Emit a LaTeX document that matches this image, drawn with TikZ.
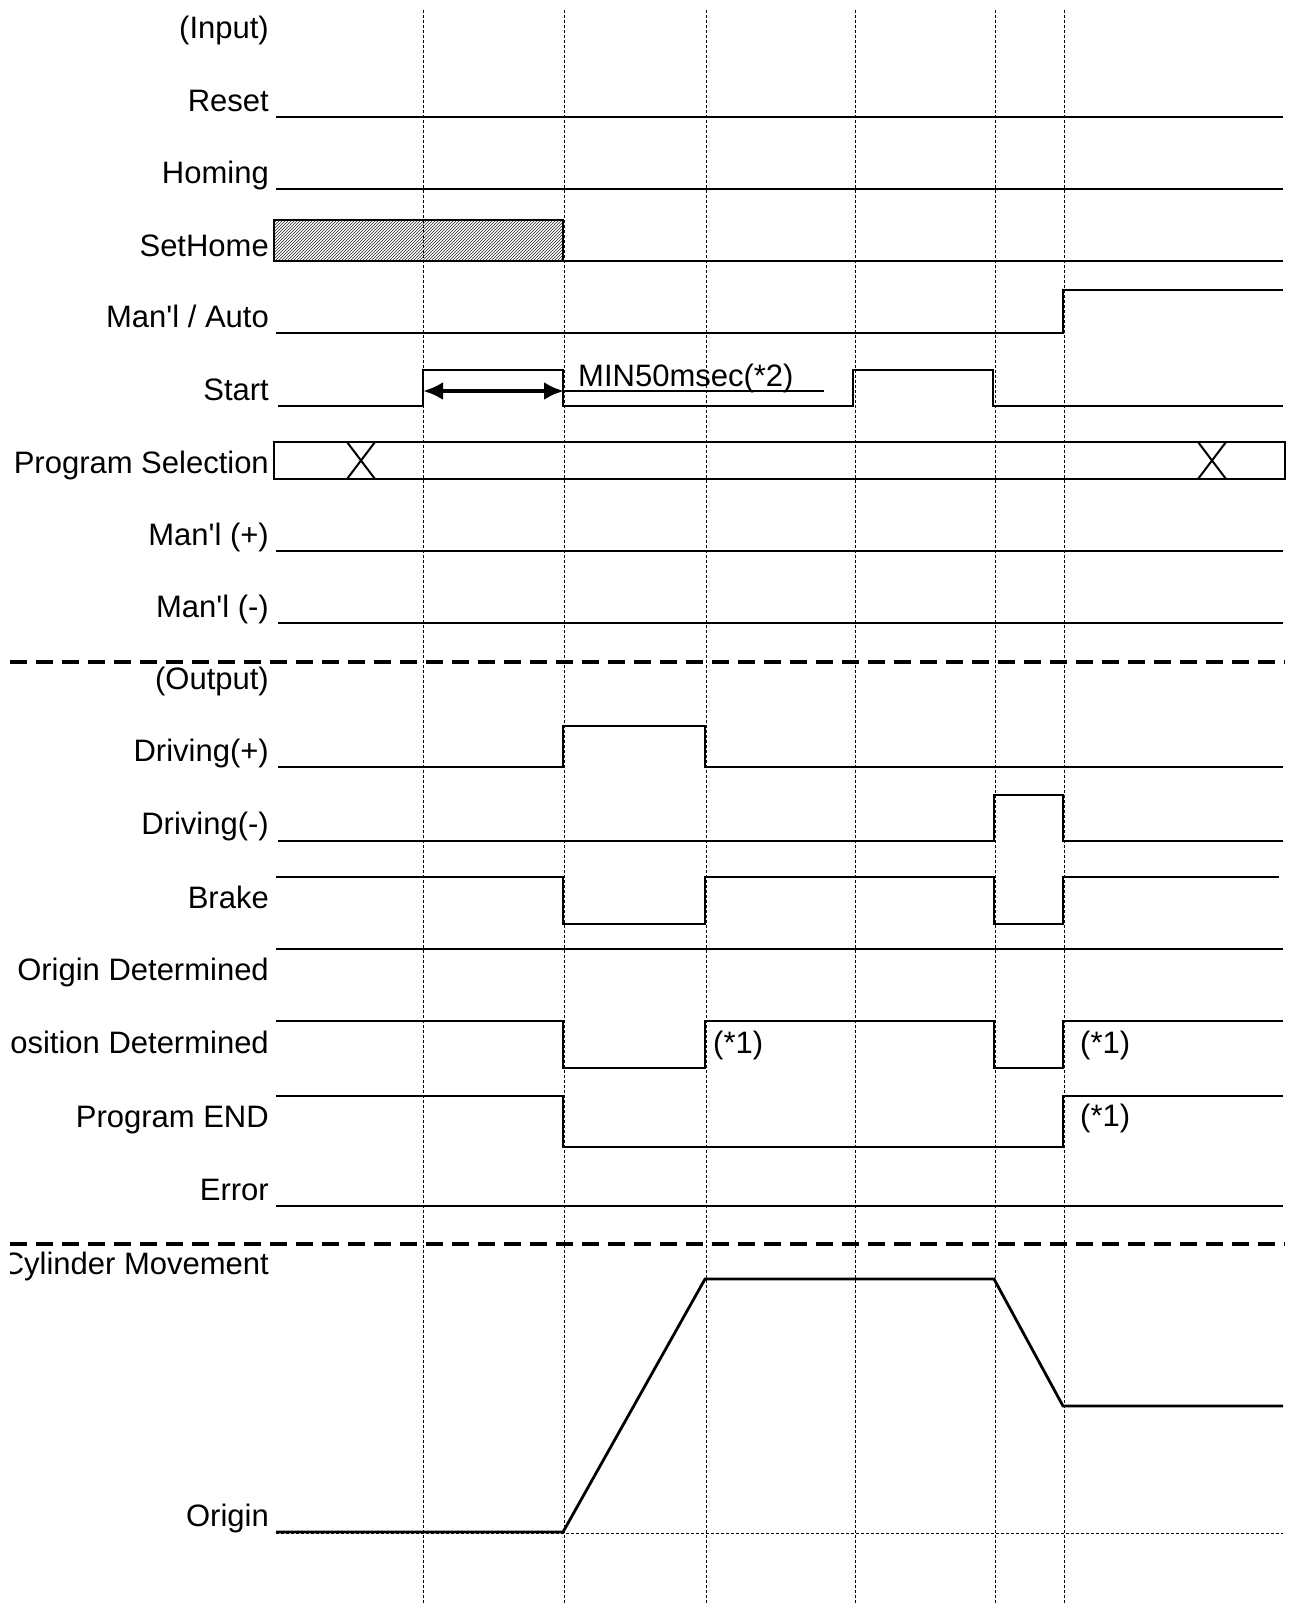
\documentclass[tikz,border=0pt]{standalone}
\usepackage{fontspec}
\setmainfont{Liberation Sans}
\usetikzlibrary{patterns,arrows.meta}
\begin{document}
\begin{tikzpicture}[x=1pt,y=-1pt,
  sig/.style={line width=2.8pt},
  guide/.style={line width=1pt,dash pattern=on 3pt off 2pt},
  sep/.style={line width=4pt,dash pattern=on 17pt off 9pt},
  lab/.style={anchor=base east,inner sep=0pt,font=\fontsize{31}{36}\selectfont},
  note/.style={anchor=base west,inner sep=0pt,font=\fontsize{31}{36}\selectfont}]
\useasboundingbox (0,0) rectangle (1293,1604);
% timing guides
\foreach \x in {423,564,706,855,995,1064} \draw[guide] (\x,10) -- (\x,1604);
% labels
\begin{scope}
\clip (10,0) rectangle (1293,1604);
\node[lab] (lInput) at (269,38) {(Input)};
\node[lab] (lReset) at (269,111) {Reset};
\node[lab] (lHoming) at (269,183) {Homing};
\node[lab] (lSetHome) at (269,256) {SetHome};
\node[lab] (lManAuto) at (269,327) {Man\textquotesingle l / Auto};
\node[lab] (lStart) at (269,400) {Start};
\node[lab] (lProg) at (269,473) {Program Selection};
\node[lab] (lManP) at (269,545) {Man\textquotesingle l (+)};
\node[lab] (lManM) at (269,617) {Man\textquotesingle l (-)};
\node[lab] (lOutput) at (269,689) {(Output)};
\node[lab] (lDrvP) at (269,761) {Driving(+)};
\node[lab] (lDrvM) at (269,834) {Driving(-)};
\node[lab] (lBrake) at (269,908) {Brake};
\node[lab] (lOrgDet) at (269,980) {Origin Determined};
\node[lab] (lPosDet) at (269,1053) {Position Determined};
\node[lab] (lPEnd) at (269,1127) {Program END};
\node[lab] (lError) at (269,1200) {Error};
\node[lab] (lCyl) at (269,1274) {Cylinder Movement};
\node[lab] (lOrigin) at (269,1526) {Origin};
\end{scope}
% separators
\draw[sep] (10,662) -- (1285,662);
\draw[sep] (10,1244) -- (1285,1244);
% inputs
\draw[sig] (276,117) -- (1283,117);
\draw[sig] (276,189) -- (1283,189);
\draw[sig,pattern=north east lines,pattern color=black!85] (274,220) rectangle (563,261);
\draw[sig] (563,261) -- (1283,261);
\draw[sig] (276,333) -- (1063,333) -- (1063,290) -- (1283,290);
\draw[sig] (278,406) -- (423,406) -- (423,370) -- (563,370) -- (563,406) -- (853,406) -- (853,370) -- (993,370) -- (993,406) -- (1283,406);
\coordinate (aL) at (423,391);
\coordinate (aR) at (564,391);
\draw[line width=4pt,{Latex[length=20pt,width=18pt]}-{Latex[length=20pt,width=18pt]}] (aL) -- (aR);
\draw[line width=1.5pt] (aR) -- (824,391);
\node[note] (min) at (578,386) {MIN50msec(*2)};
\draw[sig] (1285,442) -- (274,442) -- (274,479) -- (1285,479) -- cycle;
\draw[line width=2pt] (347,442) -- (375,479) (375,442) -- (347,479);
\draw[line width=2pt] (1198,442) -- (1226,479) (1226,442) -- (1198,479);
\draw[sig] (276,551) -- (1283,551);
\draw[sig] (278,623) -- (1283,623);
% outputs
\draw[sig] (278,767) -- (563,767) -- (563,726) -- (705,726) -- (705,767) -- (1283,767);
\draw[sig] (278,841) -- (994,841) -- (994,795) -- (1063,795) -- (1063,841) -- (1283,841);
\draw[sig] (276,877) -- (563,877) -- (563,924) -- (705,924) -- (705,877) -- (994,877) -- (994,924) -- (1063,924) -- (1063,877) -- (1279,877);
\draw[sig] (276,949) -- (1283,949);
\draw[sig] (276,1021) -- (563,1021) -- (563,1068) -- (705,1068) -- (705,1021) -- (994,1021) -- (994,1068) -- (1063,1068) -- (1063,1021) -- (1283,1021);
\draw[sig] (276,1096) -- (563,1096) -- (563,1147) -- (1063,1147) -- (1063,1096) -- (1283,1096);
\draw[sig] (276,1206) -- (1283,1206);
\node[note] (n1) at (713,1053) {(*1)};
\node[note] (n2) at (1080,1053) {(*1)};
\node[note] (n3) at (1080,1126) {(*1)};
% cylinder movement
\draw[guide] (276,1533) -- (1283,1533);
\draw[sig,line join=miter] (276,1532) -- (563,1532) -- (705,1279) -- (994,1279) -- (1063,1406) -- (1283,1406);
\end{tikzpicture}
\end{document}
